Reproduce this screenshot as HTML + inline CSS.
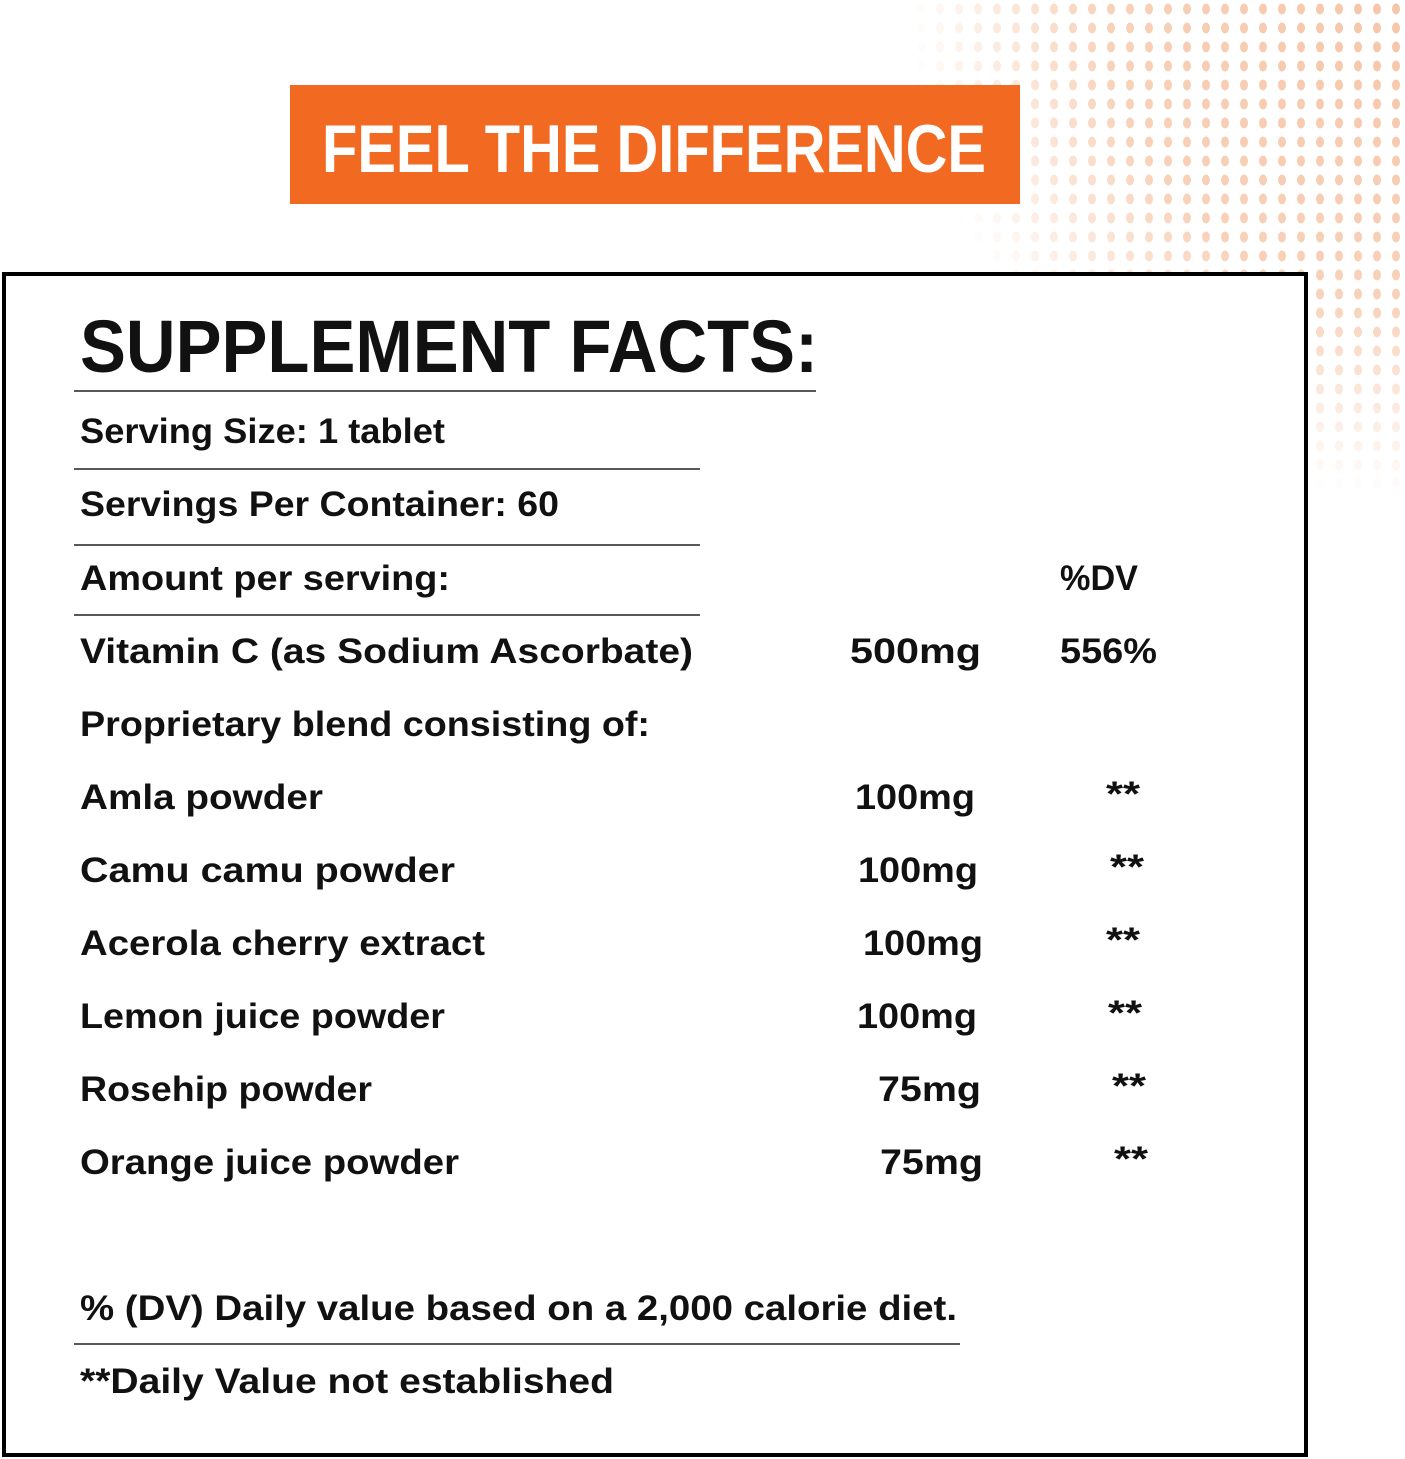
<!DOCTYPE html>
<html><head><meta charset="utf-8"><style>
html,body{margin:0;padding:0;background:#fff;}
svg{display:block;}
text{font-family:"Liberation Sans",sans-serif;font-weight:bold;fill:#111;}
</style></head><body>
<svg width="1405" height="1459" viewBox="0 0 1405 1459" xmlns="http://www.w3.org/2000/svg">
<defs>
<pattern id="dots" width="19" height="19" patternUnits="userSpaceOnUse">
<ellipse cx="9" cy="9" rx="4" ry="5.5" fill="#f6c6a8"/>
</pattern>
<radialGradient id="fade" cx="1405" cy="0" r="500" gradientUnits="userSpaceOnUse">
<stop offset="0" stop-color="#fff" stop-opacity="1"/>
<stop offset="0.6" stop-color="#fff" stop-opacity="0.8"/>
<stop offset="1" stop-color="#fff" stop-opacity="0"/>
</radialGradient>
<mask id="m"><rect width="1405" height="1459" fill="url(#fade)"/></mask>
</defs>
<rect width="1405" height="1459" fill="#fff"/>
<rect x="900" y="0" width="505" height="500" fill="url(#dots)" mask="url(#m)"/>
<rect x="290" y="85" width="730" height="119" fill="#f26a22"/>
<text x="322" y="172" font-size="68" fill="#fff" style="fill:#fff" textLength="664" lengthAdjust="spacingAndGlyphs">FEEL THE DIFFERENCE</text>
<rect x="4" y="274" width="1302" height="1181" fill="#fff" stroke="#000" stroke-width="4"/>
<text x="80" y="372" font-size="74" textLength="738" lengthAdjust="spacingAndGlyphs">SUPPLEMENT FACTS:</text>
<g stroke="#222" stroke-width="1.5">
<line x1="74" y1="391" x2="816" y2="391"/>
<line x1="74" y1="469" x2="700" y2="469"/>
<line x1="74" y1="545" x2="700" y2="545"/>
<line x1="74" y1="615" x2="700" y2="615"/>
<line x1="74" y1="1344" x2="960" y2="1344"/>
</g>
<g font-size="35">
<text x="80" y="443" textLength="365" lengthAdjust="spacingAndGlyphs">Serving Size: 1 tablet</text>
<text x="80" y="516" textLength="479" lengthAdjust="spacingAndGlyphs">Servings Per Container: 60</text>
<text x="80" y="590" textLength="370" lengthAdjust="spacingAndGlyphs">Amount per serving:</text>
<text x="1060" y="590" textLength="78" lengthAdjust="spacingAndGlyphs">%DV</text>
<text x="80" y="663" textLength="613" lengthAdjust="spacingAndGlyphs">Vitamin C (as Sodium Ascorbate)</text>
<text x="850" y="663" textLength="131" lengthAdjust="spacingAndGlyphs">500mg</text>
<text x="1060" y="663" textLength="97" lengthAdjust="spacingAndGlyphs">556%</text>
<text x="80" y="736" textLength="570" lengthAdjust="spacingAndGlyphs">Proprietary blend consisting of:</text>
<text x="80" y="809" textLength="243" lengthAdjust="spacingAndGlyphs">Amla powder</text>
<text x="855" y="809" textLength="120" lengthAdjust="spacingAndGlyphs">100mg</text>
<text x="1106" y="806" textLength="34" lengthAdjust="spacingAndGlyphs">**</text>
<text x="80" y="882" textLength="375" lengthAdjust="spacingAndGlyphs">Camu camu powder</text>
<text x="858" y="882" textLength="120" lengthAdjust="spacingAndGlyphs">100mg</text>
<text x="1110" y="879" textLength="34" lengthAdjust="spacingAndGlyphs">**</text>
<text x="80" y="955" textLength="405" lengthAdjust="spacingAndGlyphs">Acerola cherry extract</text>
<text x="863" y="955" textLength="120" lengthAdjust="spacingAndGlyphs">100mg</text>
<text x="1106" y="952" textLength="34" lengthAdjust="spacingAndGlyphs">**</text>
<text x="80" y="1028" textLength="365" lengthAdjust="spacingAndGlyphs">Lemon juice powder</text>
<text x="857" y="1028" textLength="120" lengthAdjust="spacingAndGlyphs">100mg</text>
<text x="1108" y="1025" textLength="34" lengthAdjust="spacingAndGlyphs">**</text>
<text x="80" y="1101" textLength="292" lengthAdjust="spacingAndGlyphs">Rosehip powder</text>
<text x="878" y="1101" textLength="103" lengthAdjust="spacingAndGlyphs">75mg</text>
<text x="1112" y="1098" textLength="34" lengthAdjust="spacingAndGlyphs">**</text>
<text x="80" y="1174" textLength="379" lengthAdjust="spacingAndGlyphs">Orange juice powder</text>
<text x="880" y="1174" textLength="103" lengthAdjust="spacingAndGlyphs">75mg</text>
<text x="1114" y="1171" textLength="34" lengthAdjust="spacingAndGlyphs">**</text>
<text x="80" y="1320" textLength="877" lengthAdjust="spacingAndGlyphs">% (DV) Daily value based on a 2,000 calorie diet.</text>
<text x="80" y="1393" textLength="534" lengthAdjust="spacingAndGlyphs">**Daily Value not established</text>
</g>
</svg>
</body></html>
